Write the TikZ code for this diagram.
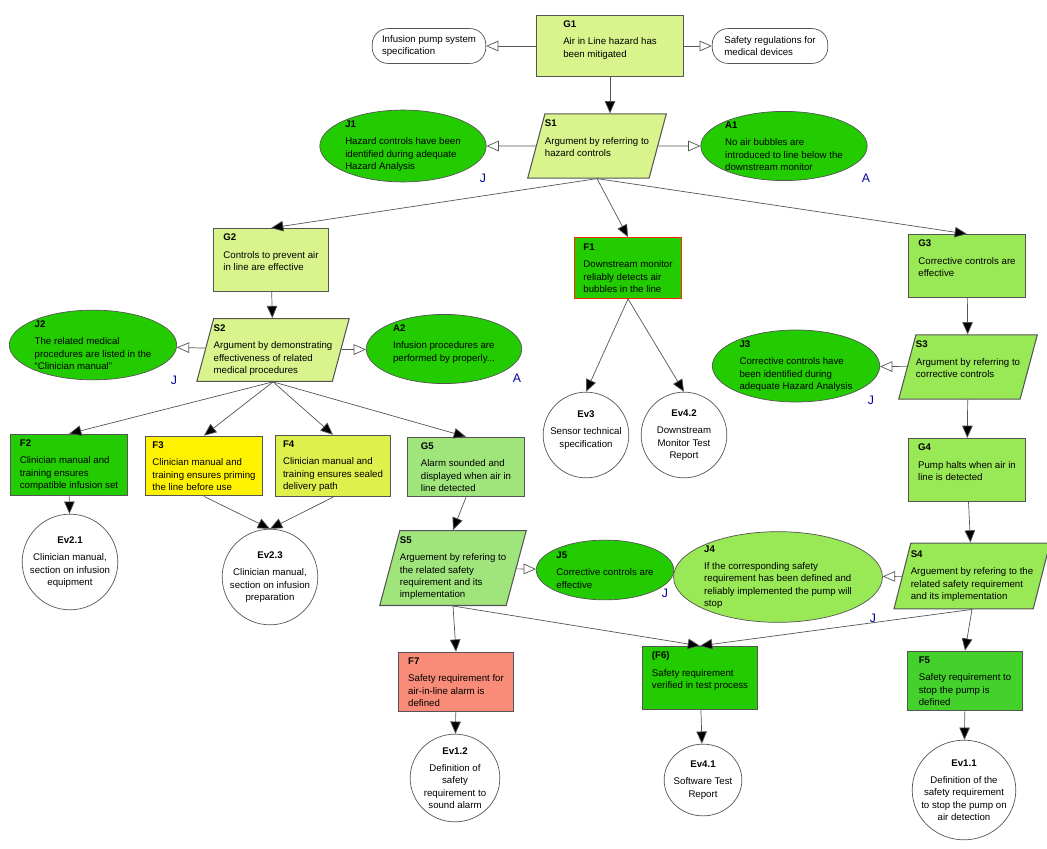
\documentclass[tikz,border=0pt]{standalone}
\usepackage{fontspec}
\setmainfont{Liberation Sans}
\usetikzlibrary{shapes.geometric,arrows.meta}
\definecolor{goallight}{HTML}{D9F48C}
\definecolor{goalmid}{HTML}{99E855}
\definecolor{goalpale}{HTML}{A0E47C}
\definecolor{solgreen}{HTML}{22CC00}
\definecolor{solgreenb}{HTML}{44D12B}
\definecolor{salmon}{HTML}{F88C78}
\definecolor{yellowb}{HTML}{DDF04C}
\definecolor{edgegray}{HTML}{555555}
\begin{document}
\begin{tikzpicture}[x=0.02cm,y=-0.02cm,
    every node/.style = {font=\fontsize{5.5}{7}\selectfont},
    box/.style = {draw=edgegray,semithick,rectangle,align=left,inner sep=3pt},
    strat/.style = {draw=edgegray,semithick,trapezium,trapezium left angle=75,trapezium right angle=105,trapezium stretches=true,align=left,inner xsep=0pt},
    oval/.style = {draw=edgegray,ellipse,align=left,inner sep=0pt},
    ctx/.style = {draw=edgegray,rounded corners=9pt,align=left},
    ev/.style = {draw=edgegray,ellipse,align=center,inner xsep=-7pt,inner ysep=-2pt},
    tag/.style = {text=blue!60!black,font=\fontsize{7}{8}\selectfont},
    sup/.style = {edgegray,-{Triangle[width=6pt,length=7pt,fill=black]}},
    inctx/.style = {edgegray,-{Triangle[open,width=6pt,length=7pt,fill=white]}}]
\useasboundingbox (0,0) rectangle (1047,848);
% top level
\node[box,fill=goallight,minimum width=148*0.567pt,minimum height=58*0.567pt] (G1) at (610,46)
    {\textbf{G1}\\[3pt]Air in Line hazard has\\been mitigated\\[1pt]};
\node[ctx,minimum width=114*0.567pt,minimum height=35*0.567pt] (C1) at (429,46)
    {Infusion pump system\\specification};
\node[ctx,minimum width=116*0.567pt,minimum height=35*0.567pt] (C2) at (770,46)
    {Safety regulations for\\medical devices};
\node[strat,fill=goallight,minimum width=100*0.567pt,minimum height=58*0.567pt] (S1) at (597,146)
    {\textbf{S1}\\[3pt]Argument by referring to\\hazard controls\\[2pt]};
\node[oval,fill=solgreen,minimum width=167*0.567pt,minimum height=67*0.567pt] (J1) at (403,146)
    {\textbf{J1}\\[3pt]Hazard controls have been\\identified during adequate\\Hazard Analysis};
\node[oval,fill=solgreen,minimum width=156*0.567pt,minimum height=67*0.567pt] (A1) at (784,146)
    {\textbf{A1}\\[3pt]No air bubbles are\\introduced to line below the\\downstream monitor};
\node[tag] (tJ1) at (483,178) {J};
\node[tag] (tA1) at (866,178) {A};
% second level
\node[box,fill=goallight,minimum width=116*0.567pt,minimum height=58*0.567pt] (G2) at (271,260)
    {\textbf{G2}\\[3pt]Controls to prevent air\\in line are effective\\[2pt]};
\node[box,fill=solgreen,draw=red!70!orange,minimum width=108*0.567pt,minimum height=61*0.567pt] (F1) at (628,268)
    {\textbf{F1}\\[3pt]Downstream monitor\\reliably detects air\\bubbles in the line};
\node[box,fill=goalmid,minimum width=118*0.567pt,minimum height=59*0.567pt] (G3) at (967,266)
    {\textbf{G3}\\[3pt]Corrective controls are\\effective\\[2pt]};
\node[strat,fill=goallight,minimum width=116*0.567pt,minimum height=61*0.567pt] (S2) at (273,350)
    {\textbf{S2}\\[3pt]Argument by demonstrating\\effectiveness of related\\medical procedures};
\node[oval,fill=solgreen,minimum width=168*0.567pt,minimum height=70*0.567pt] (J2) at (93,345)
    {\textbf{J2}\\[3pt]The related medical\\procedures are listed in the\\``Clinician manual''};
\node[oval,fill=solgreen,minimum width=156*0.567pt,minimum height=68*0.567pt] (A2) at (444,349)
    {\textbf{A2}\\[3pt]Infusion procedures are\\performed by properly...\\};
\node[tag] (tJ2) at (174,380) {J};
\node[tag] (tA2) at (517,378) {A};
\node[ev,minimum width=86*0.567pt,minimum height=86*0.567pt] (Ev3) at (586,435)
    {\textbf{Ev3}\\[3pt]Sensor technical\\specification\\};
\node[ev,minimum width=86*0.567pt,minimum height=86*0.567pt] (Ev42) at (684,435)
    {\textbf{Ev4.2}\\[3pt]Downstream\\Monitor Test\\Report};
\node[oval,fill=solgreen,minimum width=168*0.567pt,minimum height=68*0.567pt] (J3) at (796,366)
    {\textbf{J3}\\[3pt]Corrective controls have\\been identified during\\adequate Hazard Analysis};
\node[tag] (tJ3) at (871,400) {J};
\node[strat,fill=goalmid,minimum width=104*0.567pt,minimum height=59*0.567pt] (S3) at (968,367)
    {\textbf{S3}\\[3pt]Argument by referring to\\corrective controls\\[2pt]};
% third level
\node[box,fill=solgreen,minimum width=118*0.567pt,minimum height=58*0.567pt] (F2) at (69,465)
    {\textbf{F2}\\[3pt]Clinician manual and\\training ensures\\compatible infusion set};
\node[box,fill=yellow,minimum width=117*0.567pt,minimum height=60*0.567pt] (F3) at (204,466)
    {\textbf{F3}\\[3pt]Clinician manual and\\training ensures priming\\the line before use};
\node[box,fill=yellowb,minimum width=116*0.567pt,minimum height=60*0.567pt] (F4) at (333,466)
    {\textbf{F4}\\[3pt]Clinician manual and\\training ensures sealed\\delivery path};
\node[box,fill=goalpale,minimum width=117*0.567pt,minimum height=59*0.567pt] (G5) at (466,467)
    {\textbf{G5}\\[3pt]Alarm sounded and\\displayed when air in\\line detected};
\node[box,fill=goalmid,minimum width=118*0.567pt,minimum height=59*0.567pt] (G4) at (967,470)
    {\textbf{G4}\\[3pt]Pump halts when air in\\line is detected\\[2pt]};
\node[ev,minimum width=96*0.567pt,minimum height=96*0.567pt] (Ev21) at (70,562)
    {\textbf{Ev2.1}\\[3pt]Clinician manual,\\section on infusion\\equipment};
\node[ev,minimum width=96*0.567pt,minimum height=96*0.567pt] (Ev23) at (270,577)
    {\textbf{Ev2.3}\\[3pt]Clinician manual,\\section on infusion\\preparation};
\node[strat,fill=goalpale,minimum width=112*0.567pt,minimum height=72*0.567pt] (S5) at (453,568)
    {\textbf{S5}\\[3pt]Arguement by refering to\\the related safety\\requirement and its\\implementation};
\node[oval,fill=solgreen,minimum width=130*0.567pt,minimum height=60*0.567pt] (J5) at (605,570)
    {\textbf{J5}\\[3pt]Corrective controls are\\effective};
\node[tag] (tJ5) at (665,593) {J};
\node[oval,fill=goalmid,minimum width=199*0.567pt,minimum height=91*0.567pt] (J4) at (778,577)
    {\textbf{J4}\\[3pt]If the corresponding safety\\requirement has been defined and\\reliably implemented the pump will\\stop};
\node[strat,fill=goalmid,minimum width=112*0.567pt,minimum height=66*0.567pt] (S4) at (972,576)
    {\textbf{S4}\\[3pt]Arguement by refering to the\\related safety requirement\\and its implementation};
\node[tag] (tJ4) at (873,618) {J};
% bottom level
\node[box,fill=salmon,minimum width=116*0.567pt,minimum height=59*0.567pt] (F7) at (456,682)
    {\textbf{F7}\\[3pt]Safety requirement for\\air-in-line alarm is\\defined};
\node[box,fill=solgreen,minimum width=116*0.567pt,minimum height=59*0.567pt] (F6) at (700,678)
    {\textbf{(F6)}\\[3pt]Safety requirement\\verified in test process\\[2pt]};
\node[box,fill=solgreenb,minimum width=115*0.567pt,minimum height=59*0.567pt] (F5) at (965,681)
    {\textbf{F5}\\[3pt]Safety requirement to\\stop the pump is\\defined};
\node[ev,minimum width=90*0.567pt,minimum height=88*0.567pt] (Ev12) at (455,778)
    {\textbf{Ev1.2}\\[3pt]Definition of\\safety\\requirement to\\sound alarm};
\node[ev,minimum width=78*0.567pt,minimum height=72*0.567pt] (Ev41) at (703,780)
    {\textbf{Ev4.1}\\[3pt]Software Test\\Report};
\node[ev,minimum width=104*0.567pt,minimum height=100*0.567pt] (Ev11) at (964,790)
    {\textbf{Ev1.1}\\[3pt]Definition of the\\safety requirement\\to stop the pump on\\air detection};
% supported by
\draw[sup] (G1.south) -- (G1.south |- S1.north);
\draw[sup] (S1.south) -- (G2.north);
\draw[sup] (S1.south) -- (F1.north);
\draw[sup] (S1.south) -- (G3.north);
\draw[sup] (G2) -- (S2);
\draw[sup] (G3) -- (S3);
\draw[sup] (S3) -- (G4);
\draw[sup] (G4) -- (S4);
\foreach \t in {F2,F3,F4,G5}
    \draw[sup] (S2.south) -- (\t.north);
\draw[sup] (G5.south) -- (S5.north);
\draw[sup] (S5.south) -- (F7.north);
\draw[sup] (S5.south) -- (F6.north);
\draw[sup] (S4.south) -- (F6.north);
\draw[sup] (S4.south) -- (F5.north);
\draw[sup] (F2) -- (Ev21);
\draw[sup] (F3.south) -- (Ev23.north);
\draw[sup] (F4.south) -- (Ev23.north);
\draw[sup] (F1.south) -- (Ev3.north);
\draw[sup] (F1.south) -- (Ev42.north);
\draw[sup] (F7) -- (Ev12);
\draw[sup] (F6) -- (Ev41);
\draw[sup] (F5) -- (Ev11);
% in context of
\draw[inctx] (G1) -- (C1);
\draw[inctx] (G1) -- (C2);
\draw[inctx] (S1) -- (J1);
\draw[inctx] (S1) -- (A1);
\draw[inctx] (S2) -- (J2);
\draw[inctx] (S2) -- (A2);
\draw[inctx] (S3) -- (J3);
\draw[inctx] (S5) -- (J5);
\draw[inctx] (S4) -- (J4);
\end{tikzpicture}
\end{document}
